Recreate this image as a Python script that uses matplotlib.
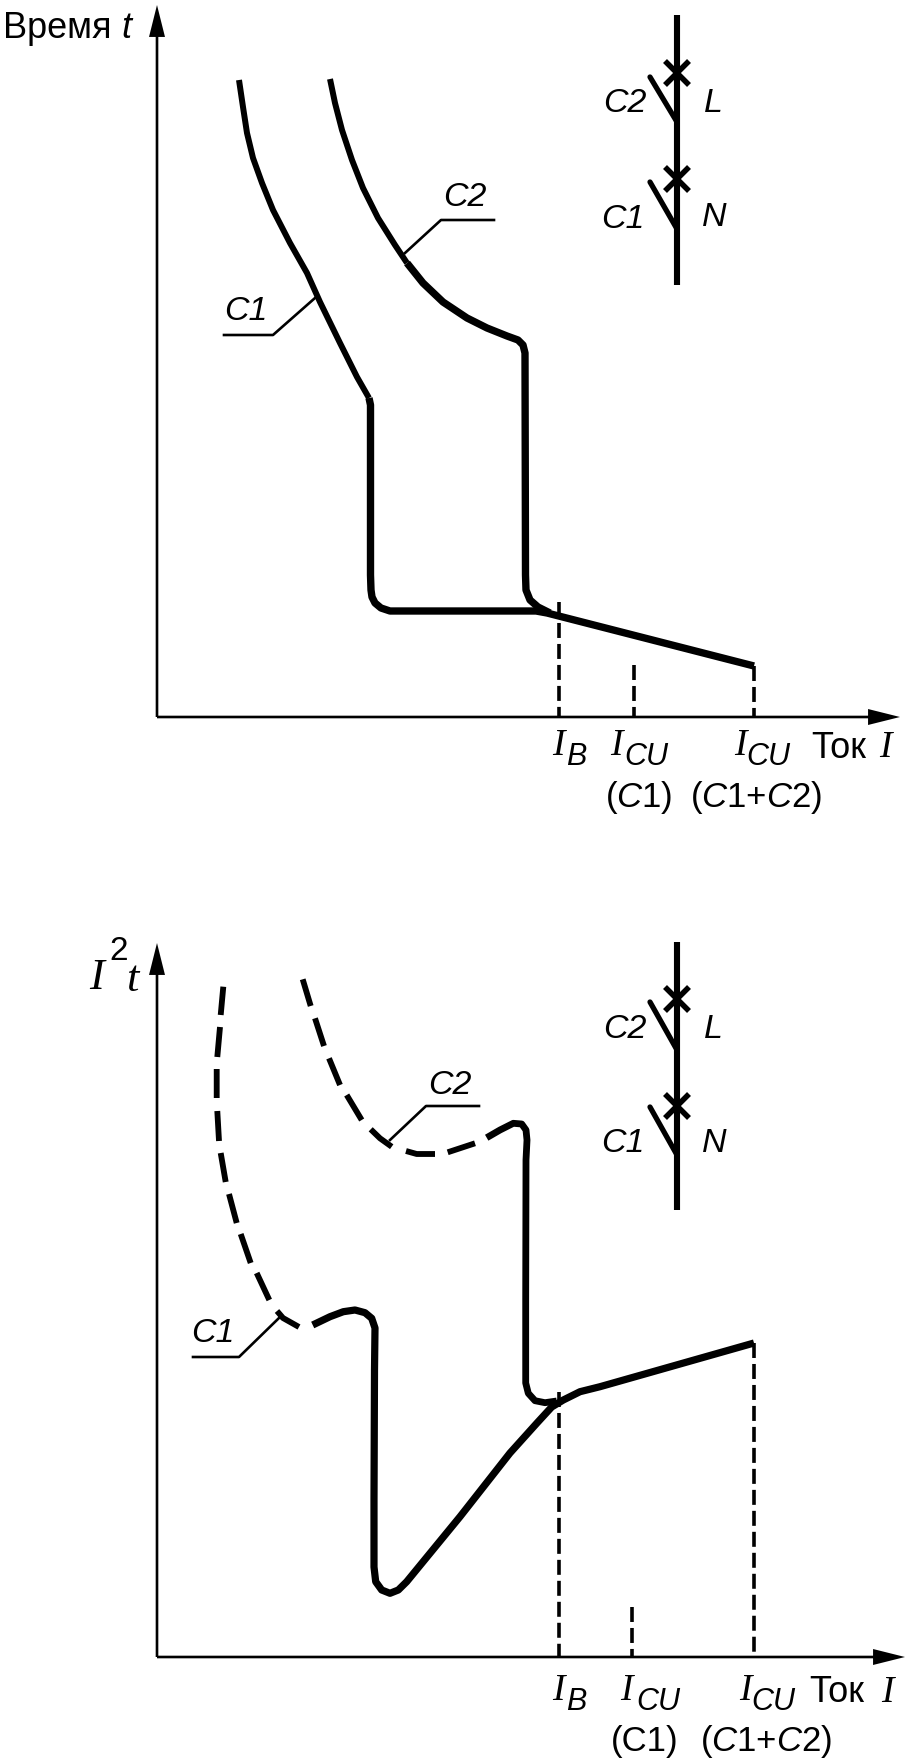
import matplotlib
matplotlib.use('Agg')
import matplotlib.pyplot as plt

nan = float('nan')

plt.rcParams['mathtext.fontset'] = 'custom'
plt.rcParams['mathtext.rm'] = 'Liberation Sans'
plt.rcParams['mathtext.it'] = 'Liberation Sans:italic'

# Curves (axes scale = picture pixels, y downwards)
top_c1_x = [239, 243, 247, 253, 262, 273, 290, 307, 320, 340, 357, 369, 370.5, 370.5, 371, 372, 375, 381, 390, 536, 547, 754]
top_c1_y = [80, 107, 133, 158, 183, 210, 243, 273, 302, 343, 377, 398, 405, 575, 590, 597, 603, 608, 611, 611, 613, 666]
top_c2_x = [330, 335, 342, 352, 363, 378, 395, 407, 423, 443, 467, 487, 507, 518, 523, 525, 525.5, 526, 530, 538, 550]
top_c2_y = [79, 103, 130, 160, 188, 218, 245, 263, 283, 302, 318, 328, 336, 340, 345, 353, 575, 590, 600, 607, 613]

# dashes of the lower curves, separated by nan
bot_c1_dash_x = [223.3, 220.7, nan, 220, 217.3, nan, 216.7, 216.7, nan, 217.3, 219, nan, 220.7, 225.7, nan,
                 229, 236.7, nan, 240.7, 250.7, nan, 256.7, 269.3, nan, 277, 283, 299]
bot_c1_dash_y = [986.7, 1015, nan, 1027, 1057, nan, 1069, 1098, nan, 1111, 1141, nan, 1153, 1182, nan,
                 1194, 1223, nan, 1234, 1263, nan, 1273, 1300, nan, 1311, 1318, 1327]
bot_c2_dash_x = [302.7, 310.7, nan, 315, 324, nan, 329, 340, nan, 346.7, 361.7, nan, 370.7, 380, 391.7, nan,
                 406, 416.7, 435, nan, 447.7, 475]
bot_c2_dash_y = [979.3, 1006, nan, 1018.3, 1046, nan, 1058.3, 1085, nan, 1095, 1120, nan, 1129.3, 1138.3, 1146.7, nan,
                 1151, 1154, 1154, nan, 1152.3, 1143.3]
bot_c1_x = [312.7, 330, 343.3, 355, 365, 371.7, 375, 374.5, 374, 374, 375.7, 381.7, 390, 398.3, 406.7, 460, 510, 537,
            551.7, 563.3, 580, 600, 754]
bot_c1_y = [1325, 1316.7, 1311.7, 1310, 1312.7, 1318.3, 1328, 1370, 1500, 1567, 1581.7, 1590, 1593.3, 1590, 1581.7,
            1516.7, 1453, 1423, 1407, 1400, 1391.7, 1386.7, 1343]
bot_c2_x = [486.7, 500, 513.3, 521.7, 526, 527, 526, 525.7, 525.7, 528.3, 535, 545, 556.7]
bot_c2_y = [1137.7, 1130, 1123.3, 1124, 1130, 1140, 1160, 1300, 1383, 1393.3, 1400.7, 1402.7, 1401]

# Dashed guides: x, top end
top_guide_x = [559, 634, 754]
top_guide_y = [602, 665, 666]
bot_guide_x = [559, 632, 754]
bot_guide_y = [1392, 1607, 1343]

# Leader lines
top_lead_c1 = ([315, 273, 224], [298, 335, 335])
top_lead_c2 = ([405, 441, 494], [253, 220, 220])
bot_lead_c1 = ([279, 239, 193], [1318, 1357, 1357])
bot_lead_c2 = ([390, 426, 479], [1140, 1106, 1106])

SANS = 'Liberation Sans'
SERIF = 'Liberation Serif'


def sans(ax, x, y, s, size=24.5, style='italic'):
    ax.text(x, y + 3, s, family=SANS, style=style, fontsize=size, ha='center', va='center')


def serif_i(ax, x, y, s='I', size=27):
    ax.text(x, y + 3, s, family=SERIF, style='italic', fontsize=size, ha='center', va='center')


def arrow(ax, x0, y0, x1, y1):
    ax.annotate('', xy=(x1, y1), xytext=(x0, y0),
                arrowprops=dict(facecolor='k', edgecolor='k', width=1.9, headwidth=11.5,
                                headlength=23, shrink=0, linewidth=0))


def schematic(ax, x, y_top, y_cross1, y_arm1, y_end1, y_cross2, y_arm2, y_end2, y_bottom):
    ax.plot([x, x], [y_top, y_bottom], 'k', lw=4.4, solid_capstyle='butt')
    for yc in (y_cross1, y_cross2):
        ax.plot([x - 12, x + 12], [yc - 12, yc + 12], 'k', lw=4, solid_capstyle='butt')
        ax.plot([x - 12, x + 12], [yc + 12, yc - 12], 'k', lw=4, solid_capstyle='butt')
    ax.plot([x - 27, x], [y_arm1, y_end1], 'k', lw=3.8, solid_capstyle='round')
    ax.plot([x - 27, x], [y_arm2, y_end2], 'k', lw=3.8, solid_capstyle='round')


def guides(ax, xs, ys, y_axis):
    for x, y in zip(xs, ys):
        ax.plot([x, x], [y, y_axis], color='k', lw=2.6, linestyle=(0, (4.15, 1.66)))


def curve(ax, xs, ys, lw):
    ax.plot(xs, ys, 'k', lw=lw, solid_joinstyle='round', solid_capstyle='butt')


fig = plt.figure(figsize=(9.07, 17.61), dpi=100)
ax = fig.add_axes([0, 0, 1, 1])
ax.set_xlim(0, 907)
ax.set_ylim(1761, 0)
ax.axis('off')

# upper panel
arrow(ax, 157, 717, 157, 5)
arrow(ax, 157, 717, 900, 717)
guides(ax, top_guide_x, top_guide_y, 717)
curve(ax, top_c1_x[:12], top_c1_y[:12], 4.3)
curve(ax, top_c1_x[11:], top_c1_y[11:], 5.3)
curve(ax, top_c2_x[:8], top_c2_y[:8], 4.3)
curve(ax, top_c2_x[7:], top_c2_y[7:], 5.3)
ax.plot(*top_lead_c1, 'k', lw=1.9)
ax.plot(*top_lead_c2, 'k', lw=1.9)
sans(ax, 246, 309, 'C1')
sans(ax, 465, 195, 'C2')
schematic(ax, 677, 15, 73, 77, 122, 179, 182, 229, 285)
sans(ax, 625, 101, 'C2')
sans(ax, 713, 100, 'L')
sans(ax, 623, 216, 'C1')
sans(ax, 714, 215, 'N')
ax.text(3, 28, 'Время', family=SANS, fontsize=26, ha='left', va='center')
ax.text(126, 28, 't', family=SANS, style='italic', fontsize=26, ha='center', va='center')
serif_i(ax, 558, 743)
sans(ax, 576, 754, 'B', size=22)
serif_i(ax, 616, 743)
sans(ax, 646, 754, 'CU', size=22)
serif_i(ax, 740, 743)
sans(ax, 768, 754, 'CU', size=22)
ax.text(811, 748, 'Ток', family=SANS, fontsize=26, ha='left', va='center')
serif_i(ax, 885, 745)
sans(ax, 639, 795, r'($\mathit{C}$1)', size=25, style='normal')
sans(ax, 756, 795, r'($\mathit{C}$1+$\mathit{C}$2)', size=25, style='normal')

# lower panel
arrow(ax, 157, 1657, 157, 943)
arrow(ax, 157, 1657, 905, 1657)
guides(ax, bot_guide_x, bot_guide_y, 1657)
ax.plot(bot_c1_dash_x, bot_c1_dash_y, 'k', lw=4.2, solid_capstyle='butt')
ax.plot(bot_c2_dash_x, bot_c2_dash_y, 'k', lw=4.2, solid_capstyle='butt')
curve(ax, bot_c1_x, bot_c1_y, 5.2)
curve(ax, bot_c2_x, bot_c2_y, 4.9)
ax.plot(*bot_lead_c1, 'k', lw=1.9)
ax.plot(*bot_lead_c2, 'k', lw=1.9)
sans(ax, 213, 1330, 'C1')
sans(ax, 450, 1082, 'C2')
schematic(ax, 677, 942, 999, 1002, 1050, 1106, 1107, 1155, 1210)
sans(ax, 625, 1026, 'C2')
sans(ax, 713, 1026, 'L')
sans(ax, 623, 1141, 'C1')
sans(ax, 714, 1141, 'N')
serif_i(ax, 97, 975, size=32)
ax.text(119, 952, '2', family=SANS, fontsize=24, ha='center', va='center')
serif_i(ax, 132, 977, 't', size=32)
serif_i(ax, 558, 1688)
sans(ax, 576, 1699, 'B', size=22)
serif_i(ax, 626, 1688)
sans(ax, 658, 1699, 'CU', size=22)
serif_i(ax, 745, 1688)
sans(ax, 773, 1699, 'CU', size=22)
ax.text(809, 1693, 'Ток', family=SANS, fontsize=26, ha='left', va='center')
serif_i(ax, 887, 1690)
sans(ax, 645, 1739, '(C1)', size=25, style='normal')
sans(ax, 766, 1739, r'($\mathit{C}$1+$\mathit{C}$2)', size=25, style='normal')

fig.savefig('out.png', dpi=100)
